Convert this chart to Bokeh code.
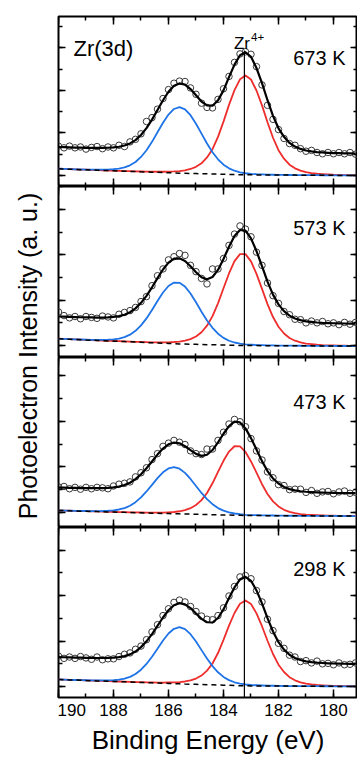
from math import pi
import numpy as np
from bokeh.plotting import figure
from bokeh.layouts import row, column
from bokeh.models import (Range1d, LinearAxis, SingleIntervalTicker, Span, Label,
                          CustomJSTickFormatter)
from bokeh.embed import file_html
from bokeh.resources import INLINE

# ---------------- data (binding energy in eV, intensity in a.u.) ----------------
ENERGY = [190.0, 189.8, 189.6, 189.4, 189.2, 189.0, 188.8, 188.6, 188.4, 188.2,
          188.0, 187.8, 187.6, 187.4, 187.2, 187.0, 186.8, 186.6, 186.4, 186.2,
          186.0, 185.8, 185.6, 185.4, 185.2, 185.0, 184.8, 184.6, 184.4, 184.2,
          184.0, 183.8, 183.6, 183.4, 183.2, 183.0, 182.8, 182.6, 182.4, 182.2,
          182.0, 181.8, 181.6, 181.4, 181.2, 181.0, 180.8, 180.6, 180.4, 180.2,
          180.0, 179.8, 179.6, 179.4, 179.2]

TEMPERATURES = ["673 K", "573 K", "473 K", "298 K"]

# ---- 673 K ----
BG_673 = [1.156, 1.151, 1.147, 1.142, 1.137, 1.133, 1.128, 1.124, 1.119, 1.114,
          1.110, 1.105, 1.100, 1.096, 1.091, 1.086, 1.082, 1.077, 1.073, 1.068,
          1.063, 1.059, 1.054, 1.051, 1.047, 1.044, 1.041, 1.038, 1.034, 1.031,
          1.028, 1.025, 1.021, 1.018, 1.015, 1.014, 1.013, 1.013, 1.012, 1.011,
          1.010, 1.009, 1.009, 1.008, 1.007, 1.006, 1.005, 1.005, 1.004, 1.003,
          1.002, 1.001, 1.001, 1.000, 0.999]
BLUE_673 = [0.002, 0.002, 0.002, 0.003, 0.005, 0.006, 0.009, 0.012, 0.017, 0.025,
            0.037, 0.057, 0.090, 0.143, 0.225, 0.349, 0.512, 0.714, 0.943, 1.173,
            1.370, 1.505, 1.553, 1.505, 1.370, 1.173, 0.943, 0.714, 0.512, 0.349,
            0.225, 0.143, 0.090, 0.057, 0.037, 0.025, 0.017, 0.012, 0.009, 0.006,
            0.005, 0.003, 0.002, 0.002, 0.002, 0.002, 0.002, 0.001, 0.001, 0.001,
            0.001, 0.001, 0.001, 0.001, 0.001]
RED_673 = [0.002, 0.002, 0.002, 0.002, 0.002, 0.002, 0.003, 0.003, 0.003, 0.003,
           0.004, 0.004, 0.004, 0.005, 0.006, 0.007, 0.009, 0.012, 0.014, 0.019,
           0.026, 0.035, 0.049, 0.070, 0.105, 0.159, 0.245, 0.386, 0.584, 0.876,
           1.239, 1.636, 1.986, 2.244, 2.337, 2.244, 1.986, 1.636, 1.239, 0.876,
           0.584, 0.386, 0.245, 0.159, 0.105, 0.070, 0.049, 0.035, 0.026, 0.019,
           0.014, 0.012, 0.009, 0.007, 0.006]
DATA_673 = [1.69, 1.65, 1.69, 1.65, 1.67, 1.62, 1.66, 1.68, 1.63, 1.67,
            1.65, 1.71, 1.68, 1.79, 1.85, 1.98, 2.27, 2.36, 2.56, 2.81,
            3.02, 3.17, 3.22, 3.21, 3.06, 2.91, 2.70, 2.60, 2.59, 2.79,
            3.04, 3.33, 3.66, 3.86, 3.91, 3.85, 3.56, 3.13, 2.65, 2.32,
            2.08, 1.87, 1.75, 1.71, 1.63, 1.57, 1.59, 1.54, 1.51, 1.54,
            1.51, 1.54, 1.51, 1.54, 1.50]

# ---- 573 K ----
BG_573 = [1.147, 1.142, 1.137, 1.132, 1.127, 1.121, 1.116, 1.111, 1.106, 1.101,
          1.096, 1.091, 1.086, 1.081, 1.076, 1.071, 1.065, 1.060, 1.055, 1.050,
          1.045, 1.040, 1.035, 1.032, 1.029, 1.026, 1.022, 1.019, 1.016, 1.013,
          1.010, 1.006, 1.003, 1.000, 0.999, 0.999, 0.998, 0.997, 0.997, 0.996,
          0.996, 0.995, 0.994, 0.994, 0.993, 0.992, 0.992, 0.991, 0.990, 0.990,
          0.989, 0.988, 0.988, 0.987, 0.986]
BLUE_573 = [0.001, 0.002, 0.003, 0.003, 0.005, 0.007, 0.010, 0.012, 0.018, 0.027,
            0.041, 0.063, 0.099, 0.158, 0.248, 0.374, 0.533, 0.724, 0.928, 1.119,
            1.268, 1.349, 1.349, 1.268, 1.119, 0.928, 0.724, 0.533, 0.374, 0.248,
            0.158, 0.099, 0.063, 0.041, 0.027, 0.018, 0.012, 0.010, 0.007, 0.005,
            0.003, 0.003, 0.002, 0.001, 0.001, 0.001, 0.001, 0.001, 0.001, 0.001,
            0.001, 0.001, 0.001, 0.001, 0.001]
RED_573 = [0.002, 0.002, 0.002, 0.002, 0.002, 0.002, 0.003, 0.003, 0.003, 0.003,
           0.004, 0.004, 0.004, 0.005, 0.006, 0.007, 0.009, 0.011, 0.014, 0.019,
           0.026, 0.037, 0.051, 0.075, 0.112, 0.173, 0.271, 0.418, 0.632, 0.917,
           1.253, 1.584, 1.859, 2.018, 2.018, 1.859, 1.584, 1.253, 0.917, 0.632,
           0.418, 0.271, 0.173, 0.112, 0.075, 0.051, 0.037, 0.026, 0.019, 0.014,
           0.011, 0.009, 0.007, 0.006, 0.005]
DATA_573 = [1.74, 1.66, 1.61, 1.64, 1.59, 1.64, 1.62, 1.60, 1.65, 1.63,
            1.61, 1.69, 1.73, 1.77, 1.84, 1.97, 2.08, 2.32, 2.54, 2.69,
            2.89, 2.96, 3.03, 2.99, 2.77, 2.63, 2.48, 2.36, 2.69, 2.69,
            2.92, 3.21, 3.46, 3.64, 3.57, 3.40, 3.06, 2.77, 2.38, 2.10,
            1.93, 1.75, 1.68, 1.58, 1.57, 1.50, 1.54, 1.50, 1.53, 1.48,
            1.50, 1.46, 1.51, 1.47, 1.51]

# ---- 473 K ----
BG_473 = [1.043, 1.040, 1.036, 1.033, 1.029, 1.026, 1.023, 1.019, 1.016, 1.012,
          1.009, 1.006, 1.002, 0.999, 0.995, 0.992, 0.989, 0.985, 0.982, 0.978,
          0.975, 0.972, 0.969, 0.966, 0.963, 0.960, 0.957, 0.954, 0.951, 0.948,
          0.945, 0.942, 0.939, 0.936, 0.933, 0.932, 0.932, 0.931, 0.930, 0.930,
          0.929, 0.928, 0.927, 0.927, 0.926, 0.925, 0.925, 0.924, 0.923, 0.923,
          0.922, 0.921, 0.920, 0.920, 0.919]
BLUE_473 = [0.001, 0.002, 0.002, 0.003, 0.004, 0.006, 0.008, 0.011, 0.016, 0.025,
            0.038, 0.059, 0.094, 0.148, 0.230, 0.338, 0.471, 0.621, 0.772, 0.902,
            0.991, 1.023, 0.991, 0.902, 0.772, 0.621, 0.471, 0.338, 0.230, 0.148,
            0.094, 0.059, 0.038, 0.025, 0.016, 0.011, 0.008, 0.006, 0.004, 0.003,
            0.002, 0.002, 0.001, 0.001, 0.001, 0.001, 0.001, 0.001, 0.001, 0.001,
            0.001, 0.001, 0.001, 0.001, 0.001]
RED_473 = [0.002, 0.002, 0.002, 0.002, 0.002, 0.002, 0.002, 0.003, 0.003, 0.003,
           0.003, 0.003, 0.004, 0.004, 0.005, 0.007, 0.008, 0.011, 0.015, 0.020,
           0.028, 0.038, 0.057, 0.084, 0.130, 0.203, 0.313, 0.474, 0.688, 0.940,
           1.187, 1.394, 1.513, 1.513, 1.394, 1.187, 0.940, 0.688, 0.474, 0.313,
           0.203, 0.130, 0.084, 0.057, 0.038, 0.028, 0.020, 0.015, 0.011, 0.008,
           0.007, 0.005, 0.004, 0.004, 0.003]
DATA_473 = [1.56, 1.57, 1.52, 1.55, 1.51, 1.55, 1.52, 1.55, 1.54, 1.52,
            1.58, 1.62, 1.64, 1.67, 1.78, 1.87, 1.98, 2.16, 2.29, 2.45,
            2.52, 2.58, 2.54, 2.49, 2.35, 2.29, 2.27, 2.39, 2.39, 2.58,
            2.76, 2.94, 3.04, 2.99, 2.88, 2.62, 2.35, 2.15, 1.89, 1.76,
            1.61, 1.59, 1.50, 1.51, 1.51, 1.44, 1.48, 1.42, 1.45, 1.46,
            1.41, 1.45, 1.47, 1.42, 1.44]

# ---- 298 K ----
BG_298 = [1.156, 1.152, 1.147, 1.143, 1.139, 1.134, 1.130, 1.125, 1.121, 1.117,
          1.112, 1.108, 1.104, 1.099, 1.095, 1.091, 1.086, 1.082, 1.078, 1.073,
          1.069, 1.064, 1.060, 1.056, 1.053, 1.049, 1.045, 1.042, 1.038, 1.034,
          1.031, 1.027, 1.023, 1.020, 1.016, 1.015, 1.015, 1.014, 1.013, 1.013,
          1.012, 1.011, 1.010, 1.010, 1.009, 1.008, 1.008, 1.007, 1.006, 1.006,
          1.005, 1.004, 1.003, 1.003, 1.002]
BLUE_298 = [0.001, 0.001, 0.002, 0.002, 0.004, 0.005, 0.007, 0.010, 0.014, 0.020,
            0.030, 0.046, 0.072, 0.115, 0.181, 0.280, 0.411, 0.573, 0.756, 0.940,
            1.098, 1.206, 1.245, 1.206, 1.098, 0.940, 0.756, 0.573, 0.411, 0.280,
            0.181, 0.115, 0.072, 0.046, 0.030, 0.020, 0.014, 0.010, 0.007, 0.005,
            0.004, 0.002, 0.002, 0.001, 0.001, 0.001, 0.001, 0.001, 0.001, 0.001,
            0.001, 0.001, 0.001, 0.001, 0.001]
RED_298 = [0.002, 0.002, 0.002, 0.002, 0.002, 0.002, 0.003, 0.003, 0.003, 0.003,
           0.004, 0.004, 0.004, 0.004, 0.005, 0.006, 0.008, 0.009, 0.011, 0.015,
           0.021, 0.028, 0.039, 0.056, 0.084, 0.128, 0.197, 0.309, 0.469, 0.703,
           0.994, 1.313, 1.594, 1.800, 1.875, 1.800, 1.594, 1.313, 0.994, 0.703,
           0.469, 0.309, 0.197, 0.128, 0.084, 0.056, 0.039, 0.028, 0.021, 0.015,
           0.011, 0.009, 0.008, 0.006, 0.005]
DATA_298 = [1.67, 1.62, 1.65, 1.62, 1.66, 1.63, 1.60, 1.65, 1.59, 1.61,
            1.61, 1.66, 1.71, 1.74, 1.82, 1.89, 2.03, 2.20, 2.36, 2.56,
            2.71, 2.85, 2.90, 2.86, 2.76, 2.65, 2.55, 2.48, 2.47, 2.56,
            2.73, 2.99, 3.20, 3.41, 3.44, 3.37, 3.11, 2.86, 2.48, 2.23,
            1.95, 1.84, 1.69, 1.65, 1.55, 1.57, 1.52, 1.56, 1.50, 1.51,
            1.48, 1.52, 1.48, 1.49, 1.52]

# vertical offset of the fitted envelope above the component baseline (a.u.)
ENVELOPE_SHIFT = [0.51, 0.49, 0.50, 0.49]
ZR4_BE = 183.24          # Zr4+ reference binding energy (eV)

BGS = [BG_673, BG_573, BG_473, BG_298]
BLUES = [BLUE_673, BLUE_573, BLUE_473, BLUE_298]
REDS = [RED_673, RED_573, RED_473, RED_298]
DATAS = [DATA_673, DATA_573, DATA_473, DATA_298]

# ---------------- layout / style ----------------
FONT = "Liberation Sans"
BLUE = "#1e73e6"
RED = "#ee2d2d"
X_RANGE = (190.0, 179.127)
Y_LIMITS = [(0.74, 4.74), (0.735, 4.510), (0.67, 4.398), (0.76, 4.496)]
FRAME_H = [170, 171, 170, 170]
TEMP_LABEL_Y = [3.775, 3.583, 3.433, 3.573]
PANEL_W = 300
TOP_BORDER = 16
BOTTOM_BORDER = 60
YTITLE_W = 57


def style_axis(ax, major_in, minor_in, labels=False):
    ax.axis_line_color = None
    ax.major_tick_in = major_in
    ax.major_tick_out = 0
    ax.minor_tick_in = minor_in
    ax.minor_tick_out = 0
    ax.major_tick_line_width = 1.5
    ax.minor_tick_line_width = 1.5
    ax.major_tick_line_color = "black"
    ax.minor_tick_line_color = "black"
    if not labels:
        ax.formatter = CustomJSTickFormatter(code="return ''")


E = np.array(ENERGY)
figs = []
for k in range(4):
    top_b = TOP_BORDER if k == 0 else 0
    bot_b = BOTTOM_BORDER if k == 3 else 0
    lo, hi = Y_LIMITS[k]
    p = figure(width=PANEL_W, height=FRAME_H[k] + top_b + bot_b,
               x_range=Range1d(*X_RANGE), y_range=Range1d(lo, hi),
               x_axis_type=None, y_axis_type=None,
               output_backend="svg", toolbar_location=None,
               min_border_left=1, min_border_right=0,
               min_border_top=top_b, min_border_bottom=bot_b)
    p.outline_line_color = "black"
    p.outline_line_width = 2
    p.background_fill_color = "white"
    p.border_fill_color = "white"

    top_ax = LinearAxis(ticker=SingleIntervalTicker(interval=2, num_minor_ticks=2),
                        fixed_location=hi)
    style_axis(top_ax, 8, 4)
    p.add_layout(top_ax, "above")

    if k < 3:
        bot_ax = LinearAxis(ticker=SingleIntervalTicker(interval=2, num_minor_ticks=2),
                            fixed_location=lo)
        style_axis(bot_ax, 8, 4)
    else:
        bot_ax = LinearAxis(ticker=SingleIntervalTicker(interval=2, num_minor_ticks=2),
                            axis_label="Binding Energy (eV)")
        style_axis(bot_ax, 8, 4, labels=True)
        bot_ax.major_label_text_font = FONT
        bot_ax.major_label_text_font_size = "17px"
        bot_ax.major_label_text_color = "black"
        bot_ax.major_label_standoff = 6
        bot_ax.axis_label_text_font = FONT
        bot_ax.axis_label_text_font_size = "26px"
        bot_ax.axis_label_text_font_style = "normal"
        bot_ax.axis_label_text_color = "black"
        bot_ax.axis_label_standoff = 6
    p.add_layout(bot_ax, "below")

    left_ax = LinearAxis(ticker=SingleIntervalTicker(interval=1, num_minor_ticks=2),
                         fixed_location=X_RANGE[0])
    style_axis(left_ax, 7, 4)
    p.add_layout(left_ax, "left")
    right_ax = LinearAxis(ticker=SingleIntervalTicker(interval=1, num_minor_ticks=2),
                          fixed_location=X_RANGE[1])
    style_axis(right_ax, 7, 4)
    p.add_layout(right_ax, "right")

    bg = np.array(BGS[k])
    b = np.array(BLUES[k])
    r = np.array(REDS[k])
    p.line(E, bg + r, line_color=RED, line_width=1.8, line_join="round")
    p.line(E, bg + b, line_color=BLUE, line_width=1.8, line_join="round")
    p.line(E, bg, line_color="black", line_width=1.5, line_dash="5 4")
    p.scatter(E, DATAS[k], marker="circle", size=6.5, fill_color=None,
              line_color="#3a3a3a", line_width=1.0)
    p.line(E, bg + b + r + ENVELOPE_SHIFT[k], line_color="black", line_width=2.2,
           line_join="round")

    if k == 0:
        p.segment(x0=[ZR4_BE], y0=[lo], x1=[ZR4_BE], y1=[3.94],
                  line_color="black", line_width=1.2)
        p.add_layout(Label(x=189.455, y=3.987, text="Zr(3d)", text_align="left",
                           text_baseline="alphabetic", text_font=FONT,
                           text_font_size="22px", text_color="black"))
        p.add_layout(Label(x=183.327, y=4.098, text="Zr", text_align="center",
                           text_baseline="alphabetic", text_font=FONT,
                           text_font_size="17px", text_color="black"))
        p.add_layout(Label(x=183.0, y=4.253, text="4+", text_align="left",
                           text_baseline="alphabetic", text_font=FONT,
                           text_font_size="11.5px", text_color="black"))
    else:
        p.add_layout(Span(location=ZR4_BE, dimension="height", line_color="black",
                          line_width=1.2))

    p.add_layout(Label(x=179.564, y=TEMP_LABEL_Y[k], text=TEMPERATURES[k],
                       text_align="right", text_baseline="alphabetic",
                       text_font=FONT, text_font_size="20px", text_color="black"))
    figs.append(p)

# y-axis title strip
total_h = sum(FRAME_H) + TOP_BORDER + BOTTOM_BORDER
t = figure(width=YTITLE_W, height=total_h, x_range=Range1d(0, YTITLE_W),
           y_range=Range1d(0, total_h), x_axis_type=None, y_axis_type=None,
           output_backend="svg", toolbar_location=None, min_border=0)
t.outline_line_color = None
t.add_layout(Label(x=27, y=total_h - 355.5, text="Photoelectron Intensity (a. u.)",
                   angle=pi / 2, text_align="center", text_baseline="middle",
                   text_font=FONT, text_font_size="25px", text_color="black"))

layout = row(t, column(*figs))
open("out.html", "w").write(file_html(layout, INLINE))
